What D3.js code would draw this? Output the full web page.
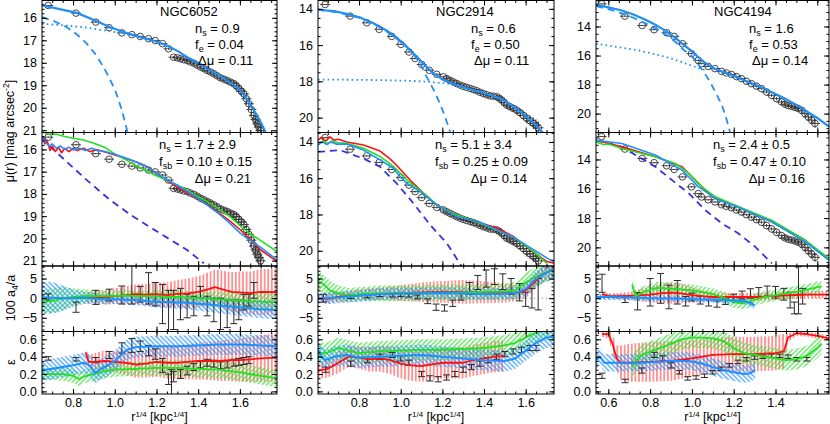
<!DOCTYPE html>
<html><head><meta charset="utf-8">
<script src="https://cdn.jsdelivr.net/npm/d3@7"></script>
<style>
body{margin:0;background:#fff}
svg{display:block}
text{font-family:"Liberation Sans",Arial,Helvetica,sans-serif;fill:#000}
</style></head>
<body><svg id="c" width="830" height="424"></svg>
<script>
// ---------------- DATA ----------------
const galaxies = ["NGC6052", "NGC2914", "NGC4194"];
const nsTop = ["0.9", "0.6", "1.6"];
const feTop = ["0.04", "0.50", "0.53"];
const dmuTop = ["0.11", "0.11", "0.14"];
const nsMid = ["1.7 \u00b1 2.9", "5.1 \u00b1 3.4", "2.4 \u00b1 0.5"];
const fsbMid = ["0.10 \u00b1 0.15", "0.25 \u00b1 0.09", "0.47 \u00b1 0.10"];
const dmuMid = ["0.21", "0.14", "0.16"];

const xTickLabels = [[0.8, 1.0, 1.2, 1.4, 1.6], [0.8, 1.0, 1.2, 1.4, 1.6], [0.6, 0.8, 1.0, 1.2, 1.4]];
const muTickLabels = [[16, 17, 18, 19, 20, 21], [14, 16, 18, 20], [14, 16, 18, 20]];
const a4TickLabels = [5, 0, -5];
const epsTickLabels = [0.0, 0.2, 0.4, 0.6];

// surface-brightness profiles [r^1/4, mu, err]
const prof6052 = [[0.681,15.45,0.03],[0.814,15.79,0.03],[0.909,16.19,0.03],[0.973,16.44,0.03],[1.034,16.67,0.03],[1.082,16.75,0.03],[1.122,16.83,0.03],[1.162,16.93,0.04],[1.194,17.01,0.04],[1.229,17.15,0.04],[1.258,17.38,0.05],[1.282,17.75,0.05],[1.30,17.78,0.05],[1.315,17.82,0.05],[1.33,17.86,0.06],[1.347,17.9,0.06],[1.362,17.96,0.06],[1.379,18.02,0.07],[1.395,18.1,0.07],[1.411,18.19,0.08],[1.427,18.26,0.08],[1.443,18.34,0.09],[1.459,18.41,0.1],[1.475,18.49,0.1],[1.491,18.58,0.11],[1.507,18.67,0.12],[1.523,18.73,0.13],[1.539,18.79,0.14],[1.555,18.86,0.15],[1.571,18.93,0.17],[1.583,19.02,0.18],[1.595,19.15,0.2],[1.607,19.26,0.22],[1.619,19.38,0.24],[1.631,19.6,0.26],[1.643,19.82,0.28],[1.655,20.08,0.3],[1.667,20.34,0.32],[1.675,20.52,0.34],[1.683,20.71,0.36],[1.691,20.86,0.38],[1.699,21.01,0.4]];
const prof2914 = [[0.637,13.76,0.03],[0.757,14.40,0.03],[0.837,14.77,0.03],[0.897,15.13,0.03],[0.957,15.52,0.03],[1.001,15.96,0.04],[1.04,16.38,0.04],[1.069,16.74,0.05],[1.101,17.07,0.05],[1.137,17.39,0.05],[1.173,17.61,0.06],[1.205,17.75,0.06],[1.221,17.85,0.06],[1.237,17.94,0.07],[1.253,18.03,0.07],[1.269,18.12,0.08],[1.285,18.2,0.08],[1.3,18.27,0.09],[1.316,18.33,0.09],[1.333,18.39,0.1],[1.349,18.45,0.1],[1.365,18.52,0.11],[1.381,18.6,0.11],[1.397,18.67,0.12],[1.413,18.74,0.12],[1.429,18.8,0.13],[1.445,18.82,0.13],[1.461,18.85,0.14],[1.473,18.93,0.15],[1.485,19.03,0.16],[1.497,19.17,0.17],[1.509,19.31,0.18],[1.525,19.4,0.19],[1.541,19.49,0.2],[1.557,19.6,0.22],[1.573,19.73,0.24],[1.589,19.88,0.26],[1.605,20.04,0.28],[1.621,20.17,0.3],[1.637,20.31,0.32],[1.649,20.43,0.34],[1.661,20.56,0.36]];
const prof4194 = [[0.568,12.44,0.03],[0.679,13.29,0.03],[0.762,13.93,0.03],[0.819,14.22,0.03],[0.879,14.43,0.03],[0.915,14.68,0.03],[0.955,15.19,0.04],[0.998,15.87,0.04],[1.03,16.33,0.04],[1.046,16.56,0.05],[1.078,16.75,0.05],[1.11,16.9,0.05],[1.142,17.09,0.06],[1.165,17.2,0.06],[1.189,17.3,0.07],[1.213,17.45,0.07],[1.237,17.59,0.08],[1.261,17.77,0.08],[1.285,17.94,0.09],[1.309,18.11,0.09],[1.333,18.28,0.1],[1.357,18.51,0.1],[1.381,18.74,0.11],[1.405,18.97,0.12],[1.429,19.2,0.13],[1.445,19.35,0.14],[1.461,19.45,0.15],[1.477,19.5,0.16],[1.493,19.57,0.17],[1.509,19.65,0.18],[1.525,19.77,0.2],[1.541,20.0,0.22],[1.557,20.23,0.24],[1.573,20.45,0.27],[1.589,20.68,0.3]];

// top-row fits: total (solid), bulge (dashed), disk (dotted)
const fitTot6052 = [[0.651,15.45],[0.73,15.6],[0.818,15.78],[0.9,16.1],[0.978,16.42],[1.05,16.65],[1.122,16.86],[1.19,17.03],[1.25,17.23],[1.3,17.47],[1.347,17.75],[1.4,18.02],[1.443,18.27],[1.5,18.55],[1.539,18.79],[1.57,18.98],[1.602,19.23],[1.635,19.62],[1.667,20.12],[1.695,20.55],[1.723,21.08]];
const fitBul6052 = [[0.651,15.97],[0.71,16.15],[0.77,16.42],[0.82,16.75],[0.866,17.15],[0.91,17.65],[0.946,18.19],[0.975,18.7],[1.002,19.23],[1.02,19.7],[1.034,20.12],[1.048,20.6],[1.061,21.08]];
const fitDsk6052 = [[0.651,16.27],[0.75,16.33],[0.85,16.42],[0.95,16.56],[1.05,16.7],[1.15,16.92]];
const fitTot2914 = [[0.603,14.05],[0.68,14.13],[0.741,14.27],[0.81,14.5],[0.869,14.79],[0.93,15.18],[0.981,15.59],[1.03,16.1],[1.077,16.65],[1.12,17.15],[1.157,17.57],[1.2,17.88],[1.269,18.21],[1.33,18.42],[1.381,18.58],[1.43,18.75],[1.477,18.94],[1.51,19.15],[1.541,19.4],[1.575,19.67],[1.605,19.95],[1.64,20.3],[1.669,20.68],[1.7,21.0]];
const fitBul2914 = [[0.603,14.05],[0.7,14.2],[0.821,14.55],[0.89,14.95],[0.949,15.37],[1.01,15.9],[1.061,16.47],[1.095,17.05],[1.125,17.75],[1.155,18.4],[1.181,19.03],[1.21,19.85],[1.237,20.78]];
const fitDsk2914 = [[0.603,17.9],[0.75,17.91],[0.9,17.93],[1.05,17.97],[1.14,18.03],[1.22,18.12],[1.27,18.2]];
const fitTot4194 = [[0.541,12.5],[0.6,12.68],[0.665,12.9],[0.72,13.18],[0.78,13.55],[0.83,13.92],[0.88,14.35],[0.92,14.78],[0.96,15.25],[1.0,15.72],[1.03,16.1],[1.06,16.48],[1.1,16.85],[1.15,17.13],[1.2,17.4],[1.25,17.7],[1.3,18.0],[1.35,18.3],[1.4,18.65],[1.45,19.0],[1.5,19.4],[1.55,19.85],[1.6,20.3],[1.656,20.9]];
const fitBul4194 = [[0.541,12.6],[0.6,12.8],[0.665,13.1],[0.72,13.4],[0.78,13.8],[0.83,14.2],[0.88,14.6],[0.92,15.05],[0.96,15.6],[1.0,16.05],[1.03,16.6],[1.06,17.2],[1.09,17.9],[1.115,18.6],[1.14,19.3],[1.16,20.1],[1.182,21.26]];
const fitDsk4194 = [[0.541,15.19],[0.65,15.42],[0.745,15.65],[0.83,15.93],[0.905,16.22],[0.96,16.5],[1.016,16.79],[1.06,16.98]];

// middle row: model profiles (red, green, blue) and bulge (dashed)
const mRed6052 = [[0.651,15.44],[0.665,15.75],[0.675,15.6],[0.69,16.05],[0.70,15.85],[0.715,16.1],[0.73,15.9],[0.745,16.15],[0.76,15.95],[0.78,16.1],[0.80,15.95],[0.82,16.05],[0.85,15.95],[0.88,16.1],[0.91,16.0],[0.95,16.1],[1.0,16.25],[1.05,16.4],[1.1,16.55],[1.15,16.75],[1.2,17.1],[1.25,17.4],[1.3,17.7],[1.35,17.95],[1.4,18.22],[1.45,18.52],[1.5,18.85],[1.55,19.2],[1.6,19.6],[1.65,20.05],[1.7,20.52],[1.75,20.85],[1.78,21.05]];
const mGrn6052 = [[0.651,15.21],[0.68,15.3],[0.72,15.32],[0.76,15.42],[0.8,15.5],[0.85,15.58],[0.9,15.72],[0.95,15.9],[1.0,16.2],[1.05,16.45],[1.1,16.72],[1.15,16.95],[1.2,17.18],[1.25,17.38],[1.3,17.6],[1.35,17.85],[1.4,18.12],[1.45,18.38],[1.5,18.68],[1.55,19.0],[1.6,19.42],[1.65,19.8],[1.7,20.1],[1.78,20.6]];
const mBlu6052 = [[0.651,15.51],[0.67,15.7],[0.685,15.85],[0.70,15.75],[0.72,15.95],[0.74,15.85],[0.76,16.0],[0.78,15.9],[0.80,16.02],[0.83,15.95],[0.86,16.05],[0.89,15.95],[0.92,16.05],[0.96,16.12],[1.0,16.22],[1.05,16.38],[1.1,16.55],[1.15,16.75],[1.2,17.08],[1.25,17.35],[1.3,17.62],[1.35,17.9],[1.4,18.2],[1.45,18.55],[1.5,18.9],[1.55,19.3],[1.6,19.75],[1.65,20.1],[1.7,20.4],[1.78,20.98]];
const mBul6052 = [[0.651,15.44],[0.7,15.95],[0.77,16.56],[0.866,17.38],[0.978,18.28],[1.09,19.03],[1.218,19.78],[1.347,20.52],[1.427,21.12]];
const mRed2914 = [[0.603,13.9],[0.62,13.75],[0.64,13.95],[0.66,13.72],[0.68,13.9],[0.70,13.85],[0.741,14.0],[0.821,14.17],[0.901,14.5],[0.95,14.95],[0.981,15.3],[1.045,16.1],[1.109,16.82],[1.173,17.47],[1.269,18.02],[1.381,18.48],[1.461,18.75],[1.541,19.21],[1.621,19.94],[1.701,20.59],[1.736,20.68]];
const mGrn2914 = [[0.603,14.07],[0.63,13.95],[0.65,14.1],[0.67,13.95],[0.7,14.05],[0.741,14.07],[0.821,14.35],[0.901,14.8],[0.965,15.35],[1.029,16.09],[1.109,16.82],[1.173,17.47],[1.269,18.02],[1.381,18.48],[1.541,19.25],[1.637,20.03],[1.7,20.68]];
const mBlu2914 = [[0.603,14.17],[0.625,14.0],[0.645,14.15],[0.665,14.0],[0.69,14.12],[0.741,14.11],[0.821,14.45],[0.901,14.99],[0.965,15.45],[1.0,15.95],[1.029,16.27],[1.093,16.74],[1.173,17.47],[1.269,18.11],[1.381,18.44],[1.541,19.25],[1.637,19.94],[1.717,20.5],[1.736,20.6]];
const mBul2914 = [[0.603,14.55],[0.709,14.45],[0.821,14.92],[0.901,15.37],[0.981,16.29],[1.061,17.38],[1.141,18.57],[1.221,19.58],[1.293,20.86]];
const mRed4194 = [[0.541,12.69],[0.665,13.14],[0.825,13.82],[0.953,14.5],[1.016,15.41],[1.096,16.55],[1.223,17.23],[1.381,18.25],[1.541,19.5],[1.656,20.87]];
const mGrn4194 = [[0.541,12.8],[0.58,13.0],[0.6,12.95],[0.665,13.25],[0.825,13.82],[0.921,14.27],[0.985,14.95],[1.048,15.87],[1.112,16.55],[1.223,17.23],[1.381,18.14],[1.541,19.5],[1.656,20.75]];
const mBlu4194 = [[0.541,12.69],[0.665,12.91],[0.825,13.7],[0.953,14.73],[1.032,15.87],[1.112,16.66],[1.223,17.27],[1.381,18.25],[1.541,19.61],[1.656,20.87]];
const mBul4194 = [[0.541,12.69],[0.665,13.14],[0.745,13.82],[0.825,14.5],[0.905,15.41],[0.985,16.32],[1.064,17.46],[1.144,18.37],[1.223,19.05],[1.303,19.96],[1.383,21.09]];

// a4 (x100) profiles: observed [r, v, err], models [r, v, halfwidth]
const a4Obs6052 = [[0.681,0.3,0.8],[0.814,-2.3,1.3],[0.909,0.2,1.8],[0.973,0.8,1.5],[1.034,0.8,2.3],[1.082,3.5,5],[1.122,1.0,2],[1.162,2.5,4],[1.194,1.0,3],[1.229,-1.5,5],[1.258,-4,6],[1.282,-3,5],[1.315,-1.5,4],[1.347,-2,3],[1.379,-2,2.5],[1.411,1.5,1.5],[1.443,-2,2.5],[1.475,-3,3],[1.507,-4,4],[1.539,-4,3.5],[1.571,-3.5,3],[1.595,-3,2.5],[1.619,-1,2],[1.643,-0.5,1.5],[1.667,2.0,2]];
const a4Red6052 = [[0.86,0,1.5],[0.9,0.3,1.5],[0.95,0.2,1.8],[1.0,0.5,2],[1.05,0.8,2.2],[1.1,1.0,2.5],[1.15,0.9,2.8],[1.2,1.0,3],[1.25,0.8,3.2],[1.3,1.1,3.5],[1.35,1.2,3.8],[1.4,1.6,4],[1.45,2.3,4.3],[1.48,2.8,4.5],[1.52,2.2,4.8],[1.56,1.6,5],[1.6,1.5,5.3],[1.65,1.3,5.5],[1.7,1.6,5.8],[1.78,1.5,6]];
const a4Grn6052 = [[0.651,-1.3,3],[0.68,-0.8,3.2],[0.72,-0.5,3.2],[0.76,0,2.8],[0.8,0.3,2.2],[0.85,0.5,1.8],[0.9,0.6,1.5],[0.95,0.5,1.4],[1.0,0.6,1.3],[1.05,0.7,1.3],[1.1,0.6,1.3],[1.15,0.5,1.4],[1.2,0.5,1.5],[1.25,0.3,1.5],[1.3,0.3,1.6],[1.35,0.1,1.7],[1.4,0,1.8],[1.45,-0.2,1.9],[1.5,-0.3,2],[1.55,-0.5,2],[1.6,-0.6,2.1],[1.65,-0.8,2.2],[1.7,-0.9,2.2],[1.78,-1.0,2.3]];
const a4Blu6052 = [[0.651,0.2,4],[0.7,0.1,4],[0.75,0,3.2],[0.8,0,2.2],[0.85,0.1,1.6],[0.9,-0.1,1.4],[0.95,-0.3,1.3],[1.0,-0.3,1.2],[1.05,-0.4,1.2],[1.1,-0.5,1.3],[1.15,-0.7,1.3],[1.2,-1.0,1.4],[1.25,-1.0,1.5],[1.3,-1.1,1.6],[1.35,-1.2,1.7],[1.4,-1.4,1.8],[1.45,-1.6,1.9],[1.5,-1.9,2],[1.55,-2.1,2],[1.6,-2.4,2.1],[1.65,-2.6,2.2],[1.7,-2.8,2.3],[1.78,-3.0,2.4]];
const a4Obs2914 = [[0.63,0,1],[0.76,0.4,0.5],[0.84,0.6,0.5],[0.9,0.8,0.4],[0.96,0.7,0.4],[1.0,0.8,0.4],[1.04,0.7,0.4],[1.08,0.3,0.5],[1.13,-0.8,0.6],[1.17,-2.3,0.8],[1.21,-2.5,0.8],[1.25,-1.3,0.8],[1.29,0.5,1],[1.33,2.5,1.5],[1.37,4.0,1.8],[1.41,5.0,2.2],[1.45,5.5,2],[1.49,4.2,2],[1.53,3.0,2],[1.57,1.5,2.2],[1.6,-0.3,1.8],[1.63,0,2.5],[1.66,1.0,4]];
const a4Red2914 = [[0.603,0,1],[0.65,-0.2,1.2],[0.7,0.3,1.3],[0.75,0.6,1.3],[0.8,0.9,1.4],[0.9,1.1,1.6],[1.0,1.3,2],[1.1,1.5,2.5],[1.2,1.6,2.8],[1.3,1.6,3],[1.4,1.5,2.8],[1.5,1.3,2.5],[1.55,1.3,2],[1.6,2.0,2],[1.64,4.0,2],[1.68,6.0,2],[1.736,7.5,2]];
const a4Grn2914 = [[0.603,4.5,2.5],[0.63,3.5,2.5],[0.66,2.0,2.5],[0.7,1.2,2],[0.75,0.8,1.8],[0.8,1.0,1.8],[0.9,1.2,2],[1.0,1.3,2],[1.1,1.3,2],[1.2,1.4,2],[1.3,1.5,2],[1.4,1.6,2],[1.5,1.7,2],[1.55,2.0,2.2],[1.6,4.0,2.5],[1.65,5.5,2.5],[1.736,7.3,2.5]];
const a4Blu2914 = [[0.603,0,1],[0.65,0,1.5],[0.7,0.2,1.5],[0.75,0.4,1.5],[0.8,0.6,1.5],[0.9,1.0,1.5],[1.0,1.2,1.5],[1.1,1.2,1.5],[1.2,1.3,1.5],[1.3,1.2,1.5],[1.4,1.0,1.5],[1.5,1.1,1.5],[1.55,1.3,1.6],[1.6,2.3,1.8],[1.64,4.5,2],[1.68,6.0,2.2],[1.736,7.3,2.2]];
const a4Obs4194 = [[0.57,3.8,2.3],[0.68,-0.3,0.8],[0.74,-0.8,2.2],[0.8,1.5,3.5],[0.85,2.5,3.8],[0.89,0.3,3],[0.93,1.5,3],[0.97,-0.8,1.2],[1.0,0.3,1],[1.04,-0.5,1],[1.08,-1.2,0.8],[1.12,-1.5,0.8],[1.16,-0.8,0.8],[1.2,0.2,0.8],[1.24,0.8,1],[1.28,1.2,1.2],[1.32,1.5,1.2],[1.36,1.8,1.3],[1.4,1.5,1.5],[1.44,1.0,1.5],[1.47,-0.5,2],[1.49,-2.5,1.5],[1.51,2.0,6],[1.53,0.5,2]];
const a4Red4194 = [[0.57,1.0,0.5],[0.6,0.6,0.6],[0.65,0.5,0.8],[0.7,0.6,1],[0.8,0.9,2],[0.85,1.2,2.5],[0.9,1.4,2.8],[0.95,1.2,2.5],[1.0,0.8,2],[1.05,0.5,1.5],[1.1,0.3,1.2],[1.2,0.3,1],[1.3,0.3,1],[1.4,0.5,1],[1.45,0.7,1],[1.5,0.8,1],[1.55,0.9,1],[1.656,0.9,1]];
const a4Grn4194 = [[0.714,3.5,1.5],[0.73,0.5,1.5],[0.78,1.8,1.5],[0.83,2.6,1.5],[0.9,2.4,1.5],[1.0,2.0,1.5],[1.1,1.0,1.5],[1.15,0.2,1.5],[1.2,-1.0,1.5],[1.25,-1.3,1.5],[1.3,-0.4,1.5],[1.35,0.3,1.5],[1.4,0.8,1.5],[1.45,1.2,1.5],[1.5,1.6,1.5],[1.55,2.2,1.5],[1.62,3.0,1.5]];
const a4Blu4194 = [[0.541,0.3,0.8],[0.6,0.3,0.8],[0.7,0.2,0.8],[0.8,0,0.8],[0.9,-0.1,0.8],[1.0,-0.2,0.8],[1.1,-0.4,0.8],[1.2,-0.6,0.8],[1.25,-0.8,0.8],[1.28,-1.2,0.8],[1.3,-2.0,0.8]];

// ellipticity profiles
const epsObs6052 = [[0.681,0.38,0.02],[0.814,0.37,0.02],[0.909,0.36,0.03],[0.973,0.42,0.04],[1.034,0.5,0.06],[1.082,0.53,0.08],[1.122,0.52,0.06],[1.162,0.47,0.06],[1.194,0.43,0.06],[1.229,0.3,0.08],[1.258,0.14,0.06],[1.272,0.1,0.15],[1.282,0.17,0.06],[1.315,0.2,0.05],[1.347,0.24,0.05],[1.379,0.28,0.04],[1.411,0.31,0.04],[1.443,0.33,0.04],[1.475,0.32,0.04],[1.507,0.3,0.04],[1.539,0.31,0.04],[1.571,0.33,0.04],[1.595,0.34,0.04],[1.619,0.35,0.04],[1.643,0.36,0.04]];
const epsRed6052 = [[0.86,0.45,0.05],[0.875,0.34,0.08],[0.9,0.34,0.1],[0.95,0.35,0.12],[1.0,0.34,0.12],[1.05,0.33,0.14],[1.1,0.31,0.15],[1.15,0.32,0.16],[1.2,0.34,0.17],[1.25,0.33,0.18],[1.3,0.33,0.19],[1.35,0.34,0.2],[1.4,0.35,0.21],[1.45,0.35,0.22],[1.5,0.35,0.23],[1.55,0.36,0.24],[1.6,0.36,0.25],[1.65,0.37,0.26],[1.7,0.38,0.27],[1.78,0.39,0.28]];
const epsGrn6052 = [[0.651,0.2,0.07],[0.7,0.2,0.07],[0.75,0.2,0.08],[0.8,0.18,0.08],[0.83,0.14,0.08],[0.85,0.17,0.08],[0.9,0.2,0.08],[0.95,0.23,0.08],[1.0,0.25,0.08],[1.1,0.26,0.08],[1.2,0.27,0.09],[1.3,0.27,0.09],[1.4,0.26,0.1],[1.5,0.25,0.1],[1.6,0.22,0.1],[1.7,0.18,0.1],[1.78,0.15,0.1]];
const epsBlu6052 = [[0.651,0.24,0.12],[0.7,0.26,0.12],[0.75,0.28,0.12],[0.8,0.3,0.12],[0.85,0.33,0.12],[0.88,0.3,0.12],[0.905,0.21,0.12],[0.93,0.25,0.12],[0.96,0.29,0.12],[1.0,0.35,0.12],[1.03,0.42,0.12],[1.06,0.48,0.12],[1.1,0.51,0.12],[1.2,0.52,0.12],[1.3,0.52,0.12],[1.4,0.53,0.12],[1.5,0.54,0.12],[1.6,0.54,0.12],[1.7,0.53,0.12],[1.78,0.52,0.12]];
const epsObs2914 = [[0.64,0.25,0.03],[0.76,0.32,0.03],[0.84,0.36,0.03],[0.9,0.4,0.03],[0.96,0.42,0.03],[1.0,0.38,0.03],[1.04,0.33,0.03],[1.1,0.2,0.03],[1.14,0.15,0.03],[1.18,0.14,0.03],[1.22,0.16,0.03],[1.26,0.2,0.03],[1.3,0.25,0.03],[1.34,0.28,0.03],[1.38,0.32,0.03],[1.42,0.36,0.03],[1.46,0.4,0.03],[1.5,0.43,0.03],[1.54,0.46,0.03],[1.58,0.48,0.03],[1.62,0.5,0.03],[1.65,0.5,0.03]];
const epsRed2914 = [[0.603,0.24,0.1],[0.65,0.26,0.1],[0.7,0.33,0.12],[0.75,0.4,0.12],[0.8,0.39,0.13],[0.85,0.37,0.14],[0.9,0.38,0.15],[0.95,0.36,0.16],[1.0,0.32,0.17],[1.05,0.3,0.18],[1.1,0.29,0.18],[1.15,0.31,0.18],[1.2,0.33,0.18],[1.25,0.33,0.18],[1.3,0.33,0.18],[1.35,0.36,0.18],[1.4,0.38,0.18],[1.45,0.4,0.18],[1.5,0.41,0.18]];
const epsGrn2914 = [[0.603,0.43,0.12],[0.65,0.45,0.12],[0.7,0.5,0.12],[0.75,0.47,0.12],[0.8,0.44,0.12],[0.9,0.46,0.12],[1.0,0.47,0.12],[1.1,0.48,0.12],[1.2,0.48,0.12],[1.3,0.49,0.12],[1.4,0.5,0.12],[1.5,0.53,0.12],[1.55,0.56,0.12],[1.6,0.62,0.12],[1.65,0.68,0.12],[1.736,0.72,0.12]];
const epsBlu2914 = [[0.603,0.48,0.12],[0.62,0.4,0.12],[0.64,0.36,0.12],[0.68,0.4,0.12],[0.74,0.42,0.12],[0.8,0.39,0.12],[0.9,0.4,0.12],[1.0,0.41,0.12],[1.1,0.42,0.12],[1.2,0.4,0.12],[1.3,0.38,0.12],[1.4,0.36,0.12],[1.5,0.35,0.12],[1.55,0.38,0.12],[1.6,0.47,0.12],[1.65,0.56,0.12],[1.7,0.62,0.12],[1.736,0.63,0.12]];
const epsObs4194 = [[0.57,0.18,0.03],[0.68,0.12,0.02],[0.76,0.24,0.03],[0.82,0.42,0.03],[0.86,0.38,0.03],[0.9,0.3,0.03],[0.94,0.22,0.02],[0.98,0.15,0.02],[1.02,0.16,0.02],[1.06,0.18,0.02],[1.1,0.22,0.02],[1.14,0.26,0.02],[1.18,0.3,0.02],[1.22,0.34,0.02],[1.26,0.37,0.02],[1.3,0.39,0.02],[1.34,0.4,0.02],[1.38,0.41,0.02],[1.42,0.41,0.02],[1.46,0.4,0.02],[1.5,0.37,0.02],[1.55,0.37,0.02]];
const epsRed4194 = [[0.57,0.66,0.03],[0.6,0.66,0.05],[0.62,0.55,0.1],[0.64,0.38,0.15],[0.66,0.33,0.2],[0.7,0.33,0.22],[0.8,0.34,0.23],[0.9,0.35,0.23],[1.0,0.38,0.21],[1.1,0.42,0.2],[1.2,0.43,0.2],[1.3,0.43,0.2],[1.4,0.44,0.2],[1.44,0.46,0.2],[1.46,0.62,0.05],[1.5,0.67,0.03],[1.55,0.66,0.03],[1.6,0.64,0.03],[1.656,0.61,0.03]];
const epsGrn4194 = [[0.714,0.28,0.12],[0.73,0.35,0.12],[0.76,0.42,0.12],[0.8,0.46,0.12],[0.85,0.5,0.12],[0.9,0.55,0.12],[0.95,0.6,0.12],[1.0,0.62,0.12],[1.05,0.62,0.12],[1.1,0.61,0.12],[1.15,0.58,0.12],[1.2,0.5,0.12],[1.25,0.44,0.12],[1.3,0.42,0.12],[1.35,0.4,0.12],[1.4,0.38,0.12],[1.45,0.36,0.12],[1.5,0.37,0.12],[1.55,0.41,0.12],[1.6,0.5,0.12],[1.62,0.55,0.12]];
const epsBlu4194 = [[0.541,0.36,0.1],[0.56,0.4,0.1],[0.58,0.33,0.1],[0.665,0.33,0.1],[0.75,0.33,0.1],[0.825,0.34,0.1],[0.9,0.35,0.1],[0.985,0.35,0.1],[1.03,0.33,0.1],[1.064,0.31,0.1],[1.1,0.28,0.1],[1.144,0.25,0.1],[1.2,0.22,0.1],[1.25,0.2,0.1],[1.28,0.21,0.1],[1.303,0.25,0.1]];

// ---------------- LAYOUT ----------------
const COLS = [{l:42, r:277, dom:[0.651,1.778]}, {l:318, r:554, dom:[0.603,1.736]}, {l:596, r:829, dom:[0.541,1.656]}];
const ROWS = [{t:0.5, b:132.5}, {t:132.5, b:266}, {t:266, b:331.5}, {t:331.5, b:394}];
const muDom = [[[15.23,21.1],[15.24,21.24]], [[13.54,20.82],[13.48,20.84]], [[12.21,21.3],[12.16,21.27]]];
const muMinor = [0.2, 0.5, 0.5];
const a4Dom = [8.2, -8.5], epsDom = [0.69, -0.03];

const C = {fit:"#1f8ef5", red:"#ff1010", grn:"#22e022", blu:"#1e90ff", bul:"#3a2fe0"};
const sets = [
  {prof:prof6052, tot:fitTot6052, bul:fitBul6052, dsk:fitDsk6052, mr:mRed6052, mg:mGrn6052, mb:mBlu6052, mbu:mBul6052, a4o:a4Obs6052, a4r:a4Red6052, a4g:a4Grn6052, a4b:a4Blu6052, eo:epsObs6052, er:epsRed6052, eg:epsGrn6052, eb:epsBlu6052},
  {prof:prof2914, tot:fitTot2914, bul:fitBul2914, dsk:fitDsk2914, mr:mRed2914, mg:mGrn2914, mb:mBlu2914, mbu:mBul2914, a4o:a4Obs2914, a4r:a4Red2914, a4g:a4Grn2914, a4b:a4Blu2914, eo:epsObs2914, er:epsRed2914, eg:epsGrn2914, eb:epsBlu2914},
  {prof:prof4194, tot:fitTot4194, bul:fitBul4194, dsk:fitDsk4194, mr:mRed4194, mg:mGrn4194, mb:mBlu4194, mbu:mBul4194, a4o:a4Obs4194, a4r:a4Red4194, a4g:a4Grn4194, a4b:a4Blu4194, eo:epsObs4194, er:epsRed4194, eg:epsGrn4194, eb:epsBlu4194}
];

const svg = d3.select("#c");
const defs = svg.append("defs");
function hatch(id, color, angle, gap, w) {
  const p = defs.append("pattern").attr("id", id).attr("patternUnits", "userSpaceOnUse")
    .attr("width", gap).attr("height", gap).attr("patternTransform", `rotate(${angle})`);
  p.append("line").attr("x1", gap/2).attr("x2", gap/2).attr("y1", -1).attr("y2", gap+1)
    .attr("stroke", color).attr("stroke-width", w);
}
hatch("hR", "#ff5a5a", 0, 3.6, 1.2);
hatch("hG", "#3ee03e", 45, 3.4, 1.1);
hatch("hB", "#2a96ff", -45, 3.4, 1.1);

function steps(lo, hi, st) {
  const a = Math.min(lo, hi), b = Math.max(lo, hi), out = [];
  for (let k = Math.ceil(a/st - 1e-9); k*st <= b + 1e-9; k++) out.push(+(k*st).toFixed(4));
  return out;
}

function makePanel(ci, ri, yDom, majors, minorStep, majorStep, showX) {
  const col = COLS[ci], row = ROWS[ri];
  const x = d3.scaleLinear().domain(col.dom).range([col.l, col.r]);
  const y = d3.scaleLinear().domain(yDom).range([row.t, row.b]);
  const id = `clip${ci}${ri}`;
  defs.append("clipPath").attr("id", id).append("rect")
    .attr("x", col.l).attr("y", row.t).attr("width", col.r - col.l).attr("height", row.b - row.t);
  const g = svg.append("g").attr("clip-path", `url(#${id})`);
  const axes = () => {
    const yMaj = steps(yDom[0], yDom[1], majorStep), yMin = steps(yDom[0], yDom[1], minorStep);
    const xMaj = steps(col.dom[0], col.dom[1], 0.2), xMin = steps(col.dom[0], col.dom[1], 0.05);
    const ax = svg.append("g");
    const add = (gen, tx, ty) => {
      const a = ax.append("g").attr("transform", `translate(${tx},${ty})`).call(gen);
      a.select(".domain").remove();
      a.selectAll("line").attr("stroke", "#000").attr("stroke-width", 1);
      a.attr("font-family", null).attr("font-size", null);
      return a;
    };
    add(d3.axisLeft(y).tickValues(yMin).tickSizeInner(-2.5).tickSizeOuter(0).tickFormat(""), col.l, 0);
    add(d3.axisRight(y).tickValues(yMin).tickSizeInner(-2.5).tickSizeOuter(0).tickFormat(""), col.r, 0);
    add(d3.axisRight(y).tickValues(yMaj).tickSizeInner(-5).tickSizeOuter(0).tickFormat(""), col.r, 0);
    const L = add(d3.axisLeft(y).tickValues(yMaj).tickSizeInner(-5).tickSizeOuter(0).tickPadding(5)
      .tickFormat(v => majors.includes(v) ? (Math.abs(majorStep) < 1 ? d3.format(".1f")(v) : d3.format("d")(v)) : ""), col.l, 0);
    L.selectAll("text").attr("font-size", 12.5).attr("fill", "#000");
    add(d3.axisBottom(x).tickValues(xMin).tickSizeInner(-2.5).tickSizeOuter(0).tickFormat(""), 0, row.b);
    add(d3.axisTop(x).tickValues(xMin).tickSizeInner(-2.5).tickSizeOuter(0).tickFormat(""), 0, row.t);
    add(d3.axisTop(x).tickValues(xMaj).tickSizeInner(-5).tickSizeOuter(0).tickFormat(""), 0, row.t);
    const B = add(d3.axisBottom(x).tickValues(xMaj).tickSizeInner(-5).tickSizeOuter(0).tickPadding(4)
      .tickFormat(v => showX && xTickLabels[ci].some(t => Math.abs(t - v) < 1e-6) ? d3.format(".1f")(v) : ""), 0, row.b);
    B.selectAll("text").attr("font-size", 12.5).attr("fill", "#000");
    ax.append("rect").attr("x", col.l).attr("y", row.t).attr("width", col.r - col.l).attr("height", row.b - row.t)
      .attr("fill", "none").attr("stroke", "#000").attr("stroke-width", 1);
  };
  return {x, y, g, axes};
}

function line(P, data, color, w, dash) {
  P.g.append("path").datum(data).attr("fill", "none").attr("stroke", color).attr("stroke-width", w)
    .attr("stroke-dasharray", dash || null).attr("stroke-linejoin", "round")
    .attr("d", d3.line().x(d => P.x(d[0])).y(d => P.y(d[1])));
}
function band(P, data, pat) {
  P.g.append("path").datum(data).attr("fill", `url(#${pat})`).attr("stroke", "none")
    .attr("d", d3.area().x(d => P.x(d[0])).y0(d => P.y(d[1] - d[2])).y1(d => P.y(d[1] + d[2])));
}
function profilePts(P, data) {
  const s = P.g.append("g").attr("stroke", "#333").attr("fill", "none").attr("stroke-width", 0.9);
  data.forEach(d => {
    const cx = P.x(d[0]), cy = P.y(d[1]);
    s.append("line").attr("x1", cx - 5).attr("x2", cx + 5).attr("y1", cy).attr("y2", cy);
    s.append("line").attr("x1", cx).attr("x2", cx).attr("y1", P.y(d[1] - d[2])).attr("y2", P.y(d[1] + d[2]));
    s.append("circle").attr("cx", cx).attr("cy", cy).attr("r", 3.3);
  });
}
function errBars(P, data) {
  const s = P.g.append("g").attr("stroke", "#2a2a2a").attr("stroke-width", 1);
  data.forEach(d => {
    const cx = P.x(d[0]), y0 = P.y(d[1] - d[2]), y1 = P.y(d[1] + d[2]);
    s.append("line").attr("x1", cx).attr("x2", cx).attr("y1", y0).attr("y2", y1);
    s.append("line").attr("x1", cx - 3.5).attr("x2", cx + 3.5).attr("y1", y0).attr("y2", y0);
    s.append("line").attr("x1", cx - 3.5).attr("x2", cx + 3.5).attr("y1", y1).attr("y2", y1);
  });
}
// label with a subscript: main, sub, rest
function subLabel(x, y, main, sub, rest, anchor) {
  const t = svg.append("text").attr("x", x).attr("y", y).attr("font-size", 13).attr("text-anchor", anchor || "start");
  t.append("tspan").text(main);
  if (sub) {
    t.append("tspan").attr("font-size", 9).attr("dy", 3).text(sub);
    t.append("tspan").attr("dy", -3).text(rest);
  }
  return t;
}

sets.forEach((S, ci) => {
  const col = COLS[ci];
  // Row 1: observed profile and decomposition fit
  const P1 = makePanel(ci, 0, muDom[ci][0], muTickLabels[ci], muMinor[ci], ci === 0 ? 1 : 2, false);
  profilePts(P1, S.prof);
  line(P1, S.dsk, C.fit, 1.8, "1.6,3.2");
  line(P1, S.bul, C.fit, 1.8, "7,5");
  line(P1, S.tot, C.fit, 2.2);
  P1.axes();
  svg.append("text").attr("x", col.l + 118).attr("y", 16).attr("font-size", 13).text(galaxies[ci]);
  subLabel(col.l + 153, 33, "n", "s", " = " + nsTop[ci]);
  subLabel(col.l + 153, 49, "f", "e", " = " + feTop[ci]);
  subLabel(col.l + 156, 65, "\u0394\u03bc = " + dmuTop[ci]);

  // Row 2: profile vs models
  const P2 = makePanel(ci, 1, muDom[ci][1], muTickLabels[ci], muMinor[ci], ci === 0 ? 1 : 2, false);
  profilePts(P2, S.prof);
  line(P2, S.mbu, C.bul, 1.8, "7,5");
  line(P2, S.mr, C.red, 1.6);
  line(P2, S.mg, C.grn, 1.6);
  line(P2, S.mb, C.blu, 1.6);
  P2.axes();
  subLabel(col.l + 117, 149, "n", "s", " = " + nsMid[ci]);
  subLabel(col.l + 117, 166, "f", "sb", " = " + fsbMid[ci]);
  subLabel(col.l + 209, 183, "\u0394\u03bc = " + dmuMid[ci], null, null, "end");

  // Row 3: a4
  const P3 = makePanel(ci, 2, a4Dom, a4TickLabels, 1, 5, false);
  P3.g.append("line").attr("x1", col.l).attr("x2", col.r).attr("y1", P3.y(0)).attr("y2", P3.y(0))
    .attr("stroke", "#777").attr("stroke-width", 1).attr("stroke-dasharray", "1,3");
  band(P3, S.a4r, "hR"); band(P3, S.a4g, "hG"); band(P3, S.a4b, "hB");
  errBars(P3, S.a4o);
  line(P3, S.a4r, C.red, 1.8); line(P3, S.a4g, C.grn, 1.8); line(P3, S.a4b, C.blu, 2);
  P3.axes();

  // Row 4: ellipticity
  const P4 = makePanel(ci, 3, epsDom, epsTickLabels, 0.05, 0.2, true);
  band(P4, S.er, "hR"); band(P4, S.eg, "hG"); band(P4, S.eb, "hB");
  errBars(P4, S.eo);
  line(P4, S.er, C.red, 1.8); line(P4, S.eg, C.grn, 1.8); line(P4, S.eb, C.blu, 2);
  P4.axes();

  // x-axis title
  const xt = svg.append("text").attr("x", (col.l + col.r) / 2).attr("y", 420.5).attr("font-size", 12.5).attr("text-anchor", "middle");
  xt.append("tspan").text("r");
  xt.append("tspan").attr("font-size", 8).attr("dy", -4).text("1/4");
  xt.append("tspan").attr("dy", 4).text(" [kpc");
  xt.append("tspan").attr("font-size", 8).attr("dy", -4).text("1/4");
  xt.append("tspan").attr("dy", 4).text("]");
});

// y-axis titles
const yt = svg.append("text").attr("transform", "translate(14,131) rotate(-90)").attr("font-size", 12.5).attr("text-anchor", "middle");
yt.append("tspan").text("\u03bc(r)  [mag arcsec");
yt.append("tspan").attr("font-size", 8.5).attr("dy", -5).text("-2");
yt.append("tspan").attr("dy", 5).text("]");
const at = svg.append("text").attr("transform", "translate(15,298) rotate(-90)").attr("font-size", 12.5).attr("text-anchor", "middle");
at.append("tspan").text("100 a");
at.append("tspan").attr("font-size", 8.5).attr("dy", 3).text("4");
at.append("tspan").attr("dy", -3).text("/a");
svg.append("text").attr("transform", "translate(15,362) rotate(-90)").attr("font-size", 13).attr("text-anchor", "middle").text("\u03b5");
</script></body></html>
